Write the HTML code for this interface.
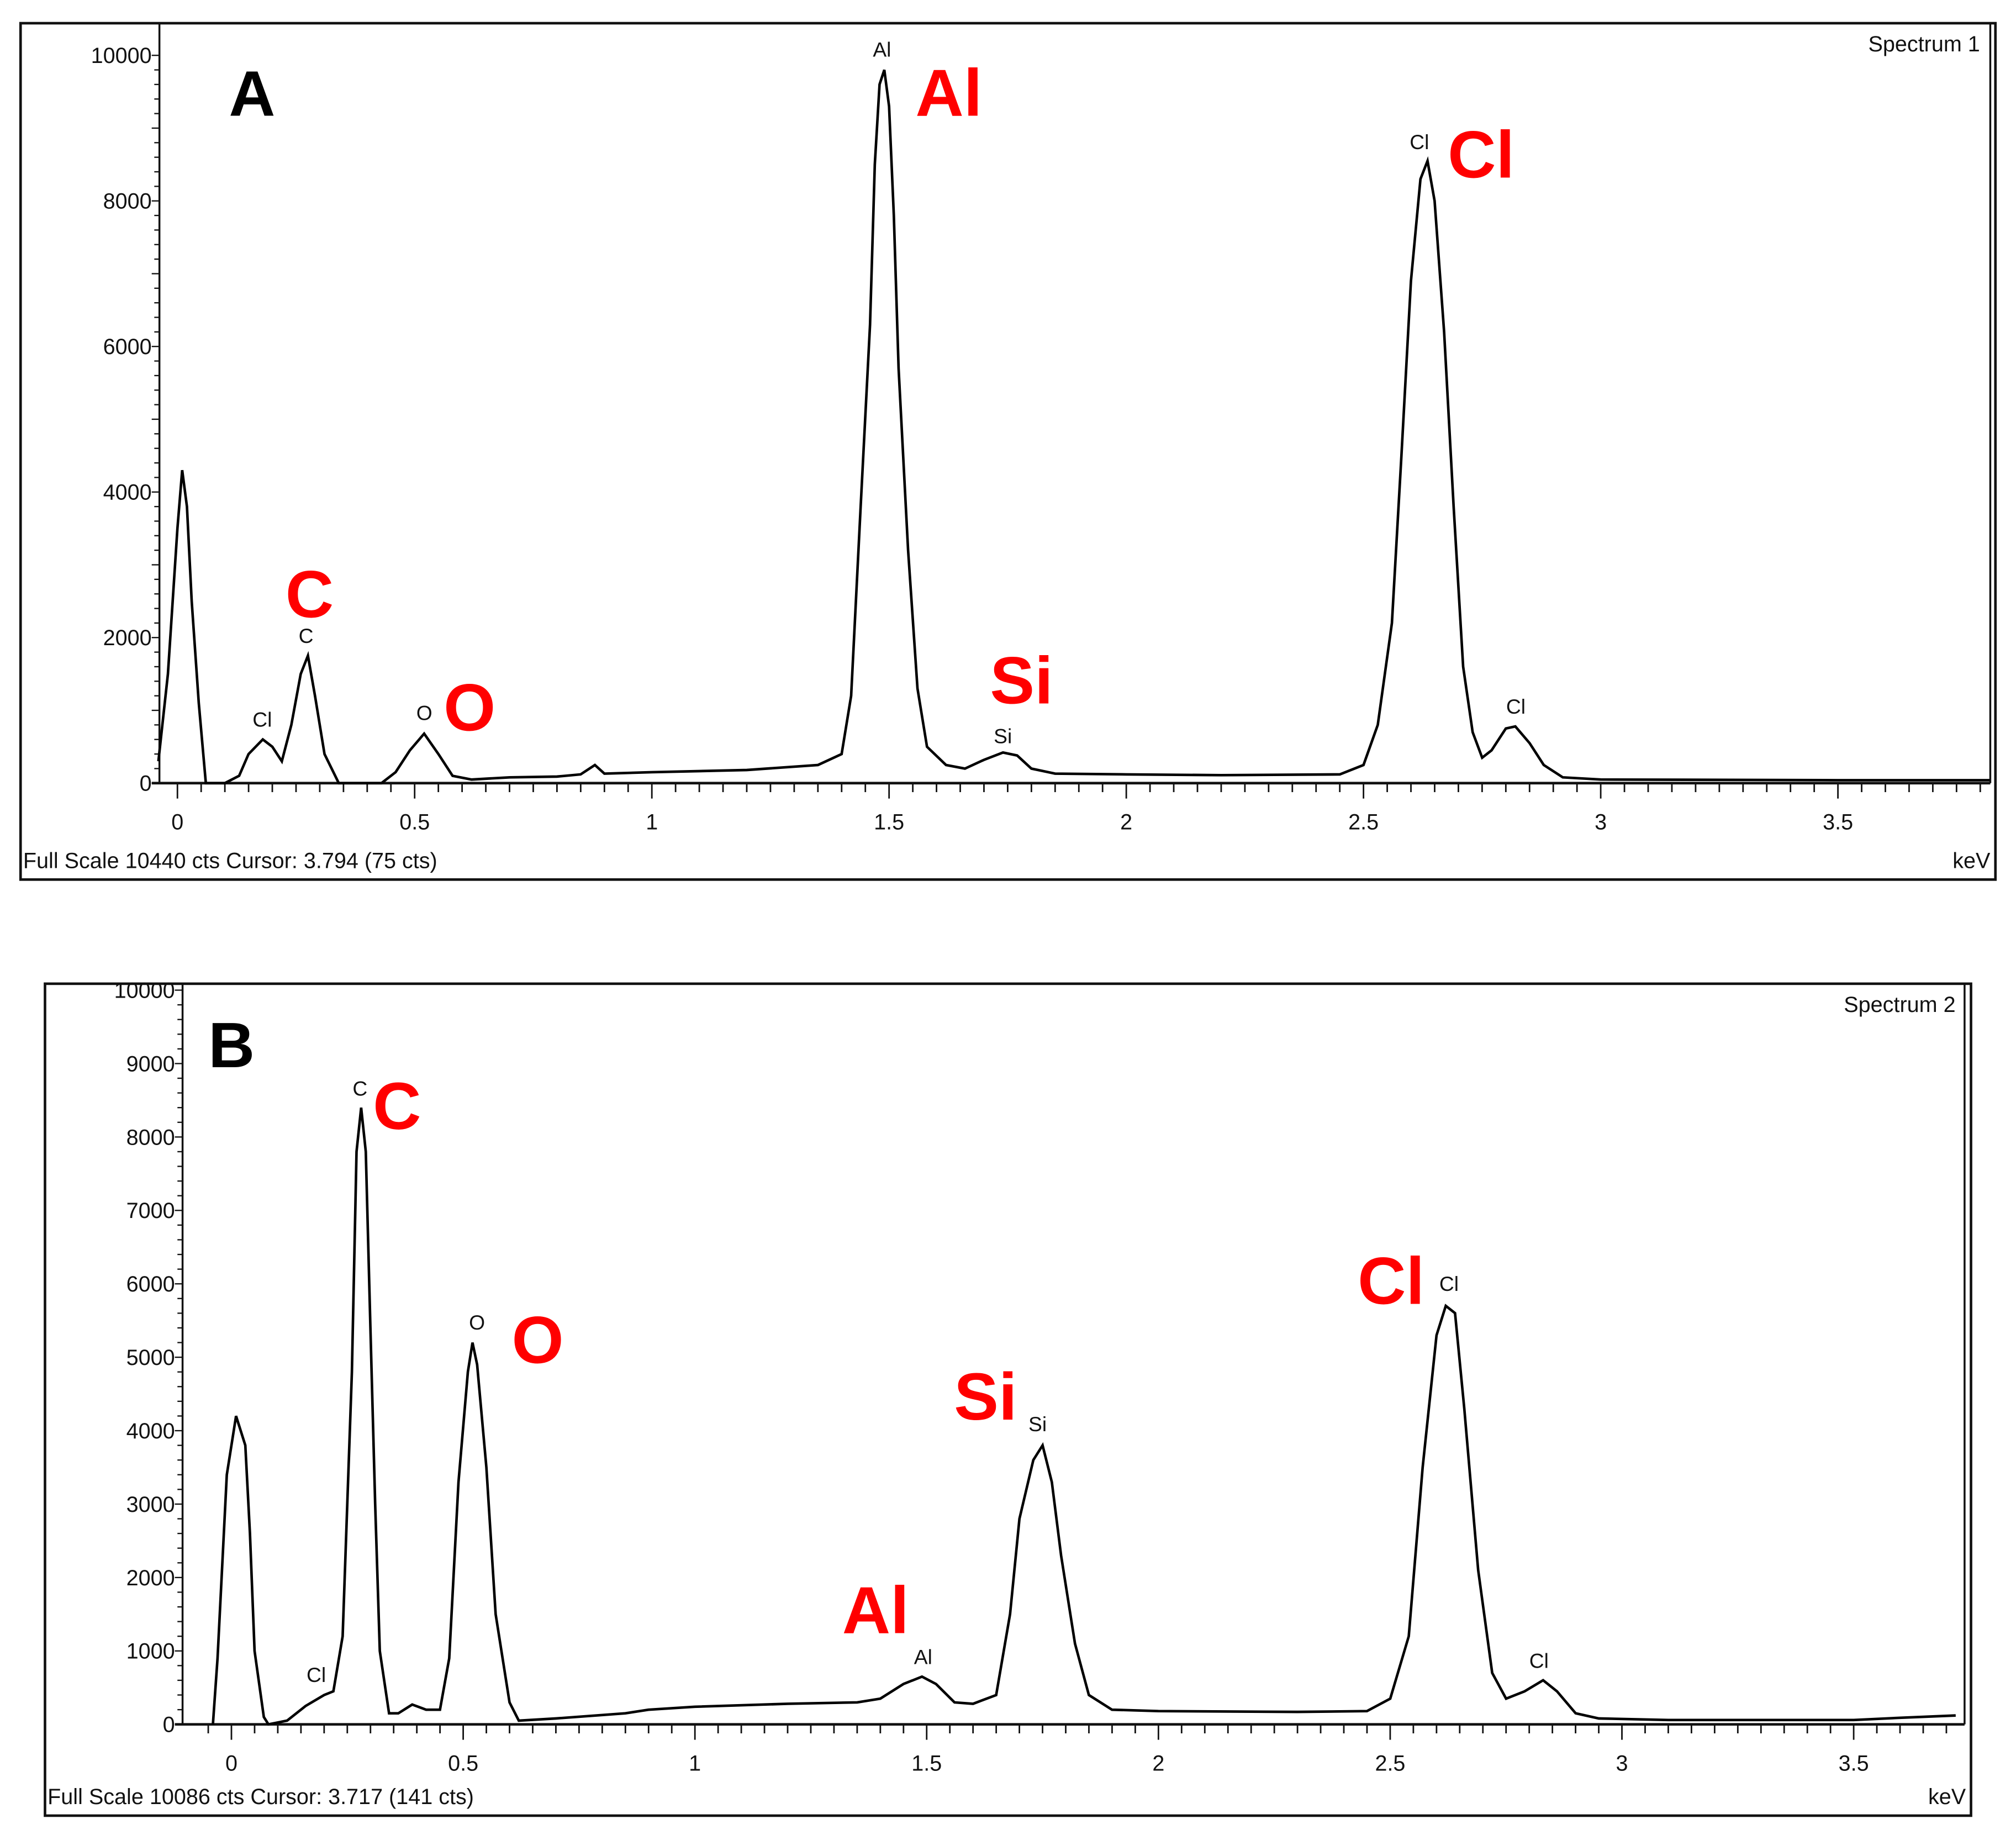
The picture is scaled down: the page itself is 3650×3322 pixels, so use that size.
<!DOCTYPE html>
<html><head><meta charset="utf-8"><style>
html,body{margin:0;padding:0;background:#fff}
svg{display:block}
.ax{font-family:"Liberation Sans",sans-serif;font-size:17px;fill:#111}
.pk{font-family:"Liberation Sans",sans-serif;font-size:16px;fill:#111}
.red{font-family:"Liberation Sans",sans-serif;font-weight:bold;font-size:52px;fill:#f00}
.let{font-family:"Liberation Sans",sans-serif;font-weight:bold;font-size:50px;fill:#000}
</style></head><body>
<svg id="fig" width="3650" height="3322" viewBox="0 0 1568 1427" xmlns="http://www.w3.org/2000/svg">
<g id="pA"></g>
<g id="pB"></g>
</svg>
<script>
const keVA=[-0.04,-0.02,0,0.01,0.02,0.03,0.045,0.06,0.1,0.13,0.15,0.18,0.2,0.22,0.24,0.26,0.275,0.29,0.31,0.34,0.43,0.46,0.49,0.52,0.55,0.58,0.62,0.7,0.8,0.85,0.88,0.9,1.0,1.2,1.35,1.4,1.42,1.44,1.46,1.47,1.48,1.49,1.5,1.51,1.52,1.54,1.56,1.58,1.62,1.66,1.7,1.74,1.77,1.8,1.85,2.0,2.2,2.45,2.5,2.53,2.56,2.58,2.6,2.62,2.635,2.65,2.67,2.69,2.71,2.73,2.75,2.77,2.8,2.82,2.85,2.88,2.92,3.0,3.5,3.82];
const ctsA=[300,1500,3500,4300,3800,2500,1100,0,0,100,400,600,500,300,800,1500,1750,1200,400,0,0,150,450,680,400,100,50,80,90,120,250,130,150,180,250,400,1200,3800,6300,8500,9600,9800,9300,7800,5700,3200,1300,500,250,200,320,420,380,200,130,120,110,120,250,800,2200,4500,6900,8300,8550,8000,6200,3800,1600,700,350,450,750,780,550,250,80,50,40,40];
const keVB=[-0.04,-0.03,-0.01,0.01,0.03,0.04,0.05,0.07,0.08,0.12,0.16,0.2,0.22,0.24,0.26,0.27,0.28,0.29,0.3,0.31,0.32,0.34,0.36,0.39,0.42,0.45,0.47,0.49,0.51,0.52,0.53,0.55,0.57,0.6,0.62,0.7,0.85,0.9,1.0,1.2,1.35,1.4,1.45,1.49,1.52,1.56,1.6,1.65,1.68,1.7,1.73,1.75,1.77,1.79,1.82,1.85,1.9,2.0,2.3,2.45,2.5,2.54,2.57,2.6,2.62,2.64,2.66,2.69,2.72,2.75,2.79,2.83,2.86,2.9,2.95,3.1,3.5,3.6,3.72];
const ctsB=[0,900,3400,4200,3800,2600,1000,100,0,50,250,400,450,1200,4800,7800,8400,7800,5400,3000,1000,150,150,270,200,200,900,3300,4800,5200,4900,3500,1500,300,50,80,150,200,240,280,300,350,550,650,550,300,280,400,1500,2800,3600,3800,3300,2300,1100,400,200,180,170,180,350,1200,3500,5300,5700,5600,4300,2100,700,350,450,600,450,150,80,60,60,90,120];
const xTicksA=["0","0.5","1","1.5","2","2.5","3","3.5"];
const yTicksA=[0,2000,4000,6000,8000,10000];
const yTicksB=[0,1000,2000,3000,4000,5000,6000,7000,8000,9000,10000];
const NS="http://www.w3.org/2000/svg";
function mk(p,t,a,txt){const e=document.createElementNS(NS,t);for(const k in a)e.setAttribute(k,a[k]);if(txt!==undefined)e.textContent=txt;p.appendChild(e);return e;}
function panel(g,cfg){
 const X=v=>cfg.x0+v*cfg.kx, Y=v=>cfg.y0-v*cfg.ky;
 let e=mk(g,'rect',{x:cfg.bx,y:cfg.by,width:cfg.bw,height:cfg.bh,fill:'#fff',stroke:'#111','stroke-width':2});
 
 e=mk(g,'line',{x1:cfg.ax,y1:cfg.by,x2:cfg.ax,y2:cfg.y0,stroke:'#111','stroke-width':1.5});
 
 e=mk(g,'line',{x1:cfg.ax-6,y1:cfg.y0,x2:cfg.xr,y2:cfg.y0,stroke:'#111','stroke-width':2});
 
 e=mk(g,'line',{x1:cfg.xr,y1:cfg.by,x2:cfg.xr,y2:cfg.y0,stroke:'#111','stroke-width':1.5});
 
 for(let v=0;v<=10000;v+=200){const y=Y(v);if(y<cfg.by)continue;const big=v%1000===0;
  e=mk(g,'line',{x1:cfg.ax-(big?6:4),y1:y,x2:cfg.ax,y2:y,stroke:'#111','stroke-width':1});
  }
 cfg.yt.forEach(v=>{e=mk(g,'text',{x:cfg.ax-6,y:Y(v)+6,'text-anchor':'end',class:'ax'},String(v));
  });
 for(let i=-1;;i++){const k=i*0.05;const x=X(k);if(x<cfg.ax)continue;if(x>cfg.xr)break;const big=i%10===0;
  e=mk(g,'line',{x1:x,y1:cfg.y0,x2:x,y2:cfg.y0+(big?12:7),stroke:'#111','stroke-width':1.2});
  }
 xTicksA.forEach(s=>{e=mk(g,'text',{x:X(parseFloat(s)),y:cfg.y0+36,'text-anchor':'middle',class:'ax'},s);
  });
 const pts=cfg.k.map((k,i)=>X(k).toFixed(1)+','+Y(cfg.c[i]).toFixed(1)).join(' ');
 e=mk(g,'polyline',{points:pts,fill:'none',stroke:'#000','stroke-width':2,'stroke-linejoin':'miter'});
 
 e=mk(g,'text',{x:cfg.bx+2,y:cfg.by+cfg.bh-9,class:'ax'},cfg.foot);
 
 e=mk(g,'text',{x:cfg.bx+cfg.bw-4,y:cfg.by+cfg.bh-9,'text-anchor':'end',class:'ax'},'keV');
 
 e=mk(g,'text',{x:cfg.bx+cfg.bw-12,y:cfg.by+22,'text-anchor':'end',class:'ax'},cfg.title);
 
 e=mk(g,'text',{x:cfg.let[0],y:cfg.let[1],class:'let'},cfg.let[2]);
 
 cfg.small.forEach(s=>{e=mk(g,'text',{x:s[0],y:s[1],'text-anchor':'middle',class:'pk'},s[2]);
  });
 cfg.big.forEach(s=>{e=mk(g,'text',{x:s[0],y:s[1],class:'red'},s[2]);
  });
}
panel(document.getElementById('pA'),{bx:16,by:18,bw:1536,bh:666,ax:124,x0:138,kx:369,y0:609,ky:0.0566,xr:1548,yt:yTicksA,k:keVA,c:ctsA,
 foot:'Full Scale 10440 cts Cursor: 3.794  (75 cts)',title:'Spectrum 1',let:[178,90,'A'],
 small:[[686,44,'Al'],[1104,116,'Cl'],[238,500,'C'],[204,565,'Cl'],[330,560,'O'],[780,578,'Si'],[1179,555,'Cl']],
 big:[[712,90,'Al'],[1126,138,'Cl'],[222,480,'C'],[345,568,'O'],[770,547,'Si']]});
panel(document.getElementById('pB'),{bx:35,by:765,bw:1498,bh:647,ax:142,x0:180,kx:360.5,y0:1341,ky:0.0571,xr:1528,yt:yTicksB,k:keVB,c:ctsB,
 foot:'Full Scale 10086 cts Cursor: 3.717  (141 cts)',title:'Spectrum 2',let:[162,830,'B'],
 small:[[280,852,'C'],[371,1034,'O'],[246,1308,'Cl'],[718,1294,'Al'],[807,1113,'Si'],[1127,1004,'Cl'],[1197,1297,'Cl']],
 big:[[290,878,'C'],[398,1060,'O'],[1056,1014,'Cl'],[742,1104,'Si'],[655,1270,'Al']]});
</script>
</body></html>
